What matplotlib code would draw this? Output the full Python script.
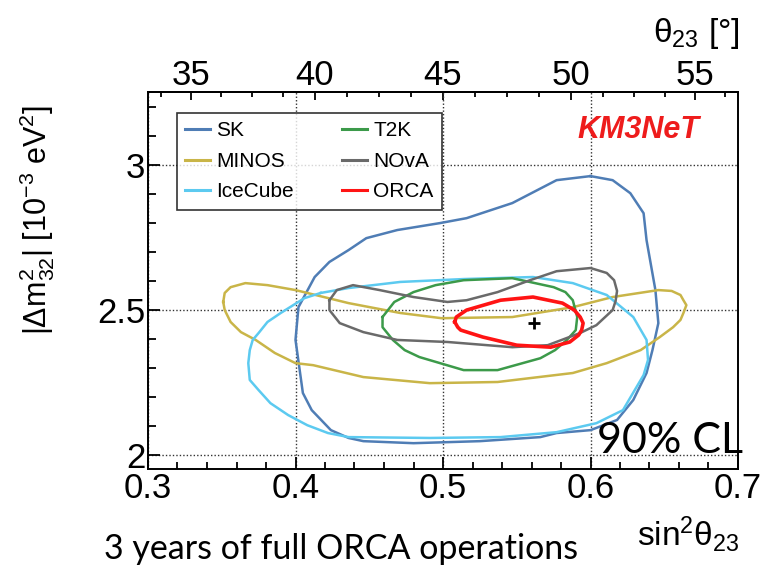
import numpy as np
import matplotlib
matplotlib.use("Agg")
import matplotlib.pyplot as plt
from matplotlib.lines import Line2D
from matplotlib.ticker import MultipleLocator, FixedLocator

plt.rcParams['font.family'] = ['Liberation Sans', 'DejaVu Sans']
plt.rcParams['mathtext.fontset'] = 'custom'
plt.rcParams['mathtext.rm'] = 'Liberation Sans'
plt.rcParams['mathtext.it'] = 'Liberation Sans:italic'

# 90% CL contours: (sin^2 theta23, |dm2_32| [1e-3 eV^2])
sk_x = [0.600, 0.615, 0.627, 0.636, 0.638, 0.644, 0.646, 0.642, 0.638, 0.629, 0.618,
        0.600, 0.577, 0.566, 0.525, 0.480, 0.446, 0.436, 0.424, 0.411, 0.405, 0.400,
        0.402, 0.413, 0.423, 0.436, 0.448, 0.469, 0.498, 0.516, 0.547, 0.577]
sk_y = [2.962, 2.948, 2.903, 2.834, 2.741, 2.569, 2.455, 2.362, 2.283, 2.190, 2.121,
        2.086, 2.076, 2.062, 2.048, 2.041, 2.048, 2.059, 2.086, 2.155, 2.214, 2.397,
        2.510, 2.614, 2.666, 2.707, 2.748, 2.776, 2.800, 2.817, 2.869, 2.948]

icecube_x = [0.417, 0.436, 0.471, 0.514, 0.561, 0.588, 0.611, 0.629, 0.638, 0.639, 0.636,
             0.622, 0.604, 0.577, 0.539, 0.491, 0.436, 0.422, 0.408, 0.395, 0.383, 0.375,
             0.369, 0.368, 0.369, 0.371, 0.375, 0.381, 0.390, 0.406]
icecube_y = [2.559, 2.576, 2.597, 2.607, 2.614, 2.593, 2.552, 2.476, 2.397, 2.328, 2.276,
             2.155, 2.110, 2.079, 2.062, 2.059, 2.062, 2.076, 2.103, 2.138, 2.179, 2.224,
             2.259, 2.317, 2.362, 2.397, 2.421, 2.459, 2.490, 2.541]

minos_x = [0.351, 0.352, 0.356, 0.366, 0.381, 0.400, 0.436, 0.471, 0.499, 0.547, 0.588,
           0.615, 0.646, 0.655, 0.661, 0.663, 0.665, 0.663, 0.661, 0.656, 0.647, 0.634,
           0.611, 0.588, 0.537, 0.491, 0.446, 0.412, 0.400, 0.386, 0.373, 0.363, 0.356, 0.352]
minos_y = [2.528, 2.559, 2.579, 2.593, 2.586, 2.569, 2.524, 2.490, 2.472, 2.476, 2.510,
           2.545, 2.569, 2.566, 2.552, 2.534, 2.517, 2.490, 2.466, 2.441, 2.407, 2.362,
           2.317, 2.283, 2.252, 2.248, 2.269, 2.310, 2.317, 2.352, 2.397, 2.424, 2.459, 2.500]

t2k_x = [0.459, 0.467, 0.480, 0.495, 0.514, 0.547, 0.575, 0.583, 0.588, 0.591, 0.590,
         0.584, 0.576, 0.566, 0.537, 0.514, 0.484, 0.474, 0.466, 0.459]
t2k_y = [2.476, 2.528, 2.562, 2.586, 2.603, 2.610, 2.579, 2.562, 2.534, 2.476, 2.431,
         2.397, 2.362, 2.334, 2.293, 2.293, 2.338, 2.362, 2.397, 2.441]

nova_x = [0.423, 0.428, 0.439, 0.457, 0.480, 0.503, 0.516, 0.537, 0.559, 0.577, 0.600,
          0.611, 0.616, 0.618, 0.617, 0.615, 0.604, 0.593, 0.571, 0.547, 0.503, 0.469,
          0.446, 0.430, 0.423]
nova_y = [2.534, 2.569, 2.586, 2.569, 2.545, 2.528, 2.534, 2.562, 2.603, 2.634, 2.645,
          2.628, 2.603, 2.566, 2.531, 2.500, 2.448, 2.421, 2.379, 2.372, 2.390, 2.397,
          2.424, 2.455, 2.500]

orca_x = [0.508, 0.509, 0.516, 0.539, 0.561, 0.581, 0.589, 0.593, 0.595, 0.594, 0.592,
          0.586, 0.573, 0.550, 0.527, 0.512, 0.510]
orca_y = [2.459, 2.476, 2.500, 2.534, 2.545, 2.524, 2.500, 2.476, 2.455, 2.431, 2.414,
          2.390, 2.372, 2.379, 2.407, 2.431, 2.441]

best_fit = (0.562, 2.455)

contours = [
    ('SK', sk_x, sk_y, '#4f7db5', 1.8),
    ('MINOS', minos_x, minos_y, '#c9b548', 1.8),
    ('IceCube', icecube_x, icecube_y, '#5ccaf0', 1.8),
    ('T2K', t2k_x, t2k_y, '#3c9a4a', 1.8),
    ('NOvA', nova_x, nova_y, '#6a6a6a', 1.8),
    ('ORCA', orca_x, orca_y, '#ff1414', 2.6),
]

fig = plt.figure(figsize=(7.63, 5.65), dpi=100)
ax = fig.add_axes([148 / 763, 1 - 469 / 565, 590 / 763, 377 / 565])

for name, xs, ys, col, lw in contours:
    ax.plot(xs + xs[:1], ys + ys[:1], color=col, lw=lw, solid_joinstyle='round', zorder=3)
ax.plot(*best_fit, marker='+', color='black', ms=9, mew=2, zorder=4)

ax.set_xlim(0.3, 0.7)
ax.set_ylim(1.952, 3.252)
ax.xaxis.set_major_locator(FixedLocator([0.3, 0.4, 0.5, 0.6, 0.7]))
ax.xaxis.set_minor_locator(MultipleLocator(0.02))
ax.yaxis.set_major_locator(FixedLocator([2.0, 2.5, 3.0]))
ax.yaxis.set_minor_locator(MultipleLocator(0.1))
ax.xaxis.set_major_formatter(plt.FuncFormatter(lambda v, p: f'{v:.1f}'))
ax.yaxis.set_major_formatter(plt.FuncFormatter(lambda v, p: f'{v:g}'))
ax.tick_params(which='both', direction='in', top=False, right=False, labelsize=25, width=1.3)
ax.tick_params(axis='x', which='major', length=8.5, pad=2)
ax.tick_params(axis='x', which='minor', length=5)
ax.tick_params(axis='y', which='major', length=8.5, pad=2)
ax.tick_params(axis='y', which='minor', length=5.5)
ax.grid(True, which='major', color='#333333', lw=1, linestyle=(0, (1, 1.5)))
for s in ax.spines.values():
    s.set_linewidth(1.4)


def to_deg(x):
    return np.degrees(np.arcsin(np.sqrt(np.clip(x, 0, 1))))


def to_s2(d):
    return np.sin(np.radians(d)) ** 2


top = ax.secondary_xaxis('top', functions=(to_deg, to_s2))
top.xaxis.set_major_locator(FixedLocator([35, 40, 45, 50, 55]))
top.xaxis.set_minor_locator(FixedLocator(np.arange(33.75, 57, 1.25)))
top.tick_params(which='both', direction='in', labelsize=25, width=1.3)
top.tick_params(which='major', length=5.8, pad=0)
top.tick_params(which='minor', length=3.6)
top.spines['top'].set_linewidth(1.4)

handles = [Line2D([], [], color=c[3], lw=2.2) for c in contours]
labels = [c[0] for c in contours]
leg = ax.legend(handles, labels, ncol=2, loc='upper left', bbox_to_anchor=(0.049, 0.944),
                fontsize=15, frameon=True, fancybox=False, edgecolor='black',
                handlelength=1.2, handletextpad=0.3, columnspacing=2.3,
                labelspacing=0.55, borderpad=0.4, borderaxespad=0)
leg.get_frame().set_linewidth(1.2)

ax.text(0.935, 0.898, 'KM3NeT', transform=ax.transAxes, color='#ee1c1c', fontsize=22,
        fontweight='bold', fontstyle='italic', ha='right', va='center')

fig.text(740 / 763, 1 - 42 / 565, r'$\mathrm{\theta}_{23}$ [°]', fontsize=24, ha='right', va='baseline')
fig.text(740 / 763, 1 - 534 / 565, r'sin$^{2}\mathrm{\theta}_{23}$', fontsize=24, ha='right', va='center')
fig.text(37 / 763, 1 - 220 / 565, r'$|\Delta \mathrm{m}^{2}_{32}|$ [10$^{-3}$ eV$^{2}$]', fontsize=22,
         rotation=90, ha='center', va='center')

fig.text(104 / 763, 1 - 549 / 565, '3 years of full ORCA operations', fontsize=24.5,
         family='Lato', ha='left', va='center')
fig.text(597 / 763, 1 - 441 / 565, '90% CL', fontsize=31, family='Lato',
         ha='left', va='center', zorder=5)

fig.savefig('out.png', dpi=100)
